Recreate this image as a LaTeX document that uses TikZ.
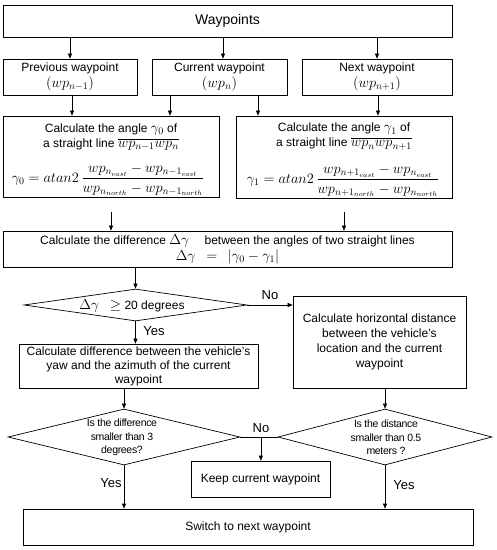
\documentclass[tikz,border=0pt]{standalone}
\usepackage{amsmath}
\usepackage{fontspec}
\setmainfont{Liberation Sans}
\DeclareMathSizes{12}{13.5}{10}{7.5}
\usetikzlibrary{shapes.geometric,arrows.meta,calc}
\begin{document}
\begin{tikzpicture}[x=1pt,y=-1pt,
  every node/.style={inner sep=0pt},
  box/.style={draw, line width=0.7pt, align=center, font=\fontsize{12}{14}\selectfont},
  dia/.style={draw, diamond, line width=0.7pt},
  dtxt/.style={align=center, font=\fontsize{10.5}{13.5}\selectfont\addfontfeature{LetterSpace=-3}},
  txt/.style={align=center, font=\fontsize{12}{15}\selectfont},
  arr/.style={-{Triangle[length=5pt,width=4pt]}, line width=0.6pt},
  lab/.style={font=\fontsize{13}{15}\selectfont}
]
\useasboundingbox (0,0) rectangle (497,550);

% row 1
\node[box, minimum width=449pt, minimum height=32pt, font=\fontsize{14}{16}\selectfont] (wp) at (227.5,21) {Waypoints};
% row 2
\node[box, minimum width=134pt, minimum height=36pt, font=\fontsize{12}{16}\selectfont] (prev) at (70,77) {Previous waypoint\\$(wp_{n-1})$};
\node[box, minimum width=135pt, minimum height=36pt, font=\fontsize{12}{16}\selectfont] (cur) at (219.5,77) {Current waypoint\\$(wp_{n})$};
\node[box, minimum width=150pt, minimum height=36pt, font=\fontsize{12}{16}\selectfont] (next) at (377,77) {Next waypoint\\$(wp_{n+1})$};

% row 3
\node[box, minimum width=216pt, minimum height=81pt] (calcL) at (111,156.5) {};
\node[txt] (calcLa) at (111,137) {Calculate the angle $\gamma_0$ of\\a straight line $\overline{wp_{n-1}wp_n}$};
\node[txt] (calcLf) at (108,180) {$\gamma_0 = atan2\,\dfrac{wp_{n_{east}}-wp_{n-1_{east}}}{wp_{n_{north}}-wp_{n-1_{north}}}$};

\node[box, minimum width=216pt, minimum height=82pt] (calcR) at (344,157) {};
\node[txt] (calcRa) at (344,136.5) {Calculate the angle $\gamma_1$ of\\a straight line $\overline{wp_{n}wp_{n+1}}$};
\node[txt] (calcRf) at (343,181) {$\gamma_1 = atan2\,\dfrac{wp_{n+1_{east}}-wp_{n_{east}}}{wp_{n+1_{north}}-wp_{n_{north}}}$};

% row 4
\node[box, minimum width=449pt, minimum height=36pt, font=\fontsize{12}{16}\selectfont] (diff) at (227.5,249) {Calculate the difference $\Delta\gamma$\quad\ between the angles of two straight lines\\$\Delta\gamma\ \ =\ \ |\gamma_0-\gamma_1|$};

% decision 1
\node[dia, minimum width=223pt, minimum height=32pt] (d1) at (135.5,305) {};
\node[txt] (d1t) at (132,305.5) {$\Delta\gamma\ \ \geq$ 20 degrees};

\node[box, minimum width=173pt, minimum height=92pt, font=\fontsize{12}{15}\selectfont] (hdist) at (379.5,342) {Calculate horizontal distance\\between the vehicle’s\\location and the current\\waypoint};
\node[box, minimum width=239pt, minimum height=44pt, font=\fontsize{12}{14}\selectfont] (yaw) at (138.5,366) {Calculate difference between the vehicle’s\\yaw and the azimuth of the current\\waypoint};

% decisions 2, 3
\node[dia, minimum width=232pt, minimum height=56pt] (d2) at (124,437) {};
\node[dtxt] (d2t) at (122,437.5) {Is the difference\\smaller than 3\\degrees?};
\node[dia, minimum width=214pt, minimum height=56pt] (d3) at (385,437) {};
\node[dtxt] (d3t) at (386,437.5) {Is the distance\\smaller than 0.5\\meters ?};

\node[box, minimum width=139pt, minimum height=36pt] (keep) at (260.5,479) {Keep current waypoint};
\node[box, minimum width=450pt, minimum height=36pt] (switch) at (248,527) {Switch to next waypoint};

% connectors
\draw[arr] (prev.north |- wp.south) -- (prev.north);
\draw[arr] ([xshift=3.5pt]cur.north |- wp.south) -- ([xshift=3.5pt]cur.north);
\draw[arr] (next.north |- wp.south) -- (next.north);

\draw[arr] ([xshift=2pt]prev.south) -- ([xshift=2pt]prev.south |- calcL.north);
\draw[arr] ([xshift=-49.5pt]cur.south) -- ([xshift=-49.5pt]cur.south |- calcL.north);
\draw[arr] ([xshift=38.5pt]cur.south) -- ([xshift=38.5pt]cur.south |- calcR.north);
\draw[arr] ([xshift=1pt]next.south) -- ([xshift=1pt]next.south |- calcR.north);

\draw[arr, shorten <=15pt] (calcL.south) -- (calcL.south |- diff.north);
\draw[arr, shorten <=14pt] (calcR.south) -- (calcR.south |- diff.north);

\draw[arr] (d1.north |- diff.south) -- (d1.north);
\draw[arr] (d1.east) -- (d1.east -| hdist.west);
\node[lab] (no1) at (270,295) {No};
\draw[arr] (d1.south) -- (d1.south |- yaw.north);
\node[lab] (yes1) at (154,331) {Yes};

\draw[arr] (d2.north |- yaw.south) -- (d2.north);
\draw[arr] (d3.north |- hdist.south) -- (d3.north);

\coordinate (mid) at ($(d2.east)!0.55!(d3.west)$);
\draw[line width=0.6pt] (d2.east) -- (d3.west);
\draw[arr] (mid) -- (mid |- keep.north);
\node[lab] (no2) at (261,428) {No};

\draw[arr] (d2.south) -- (d2.south |- switch.north);
\node[lab] (yes2) at (111,483) {Yes};
\draw[arr] (d3.south) -- (d3.south |- switch.north);
\node[lab] (yes3) at (404,485) {Yes};
\end{tikzpicture}
\end{document}
